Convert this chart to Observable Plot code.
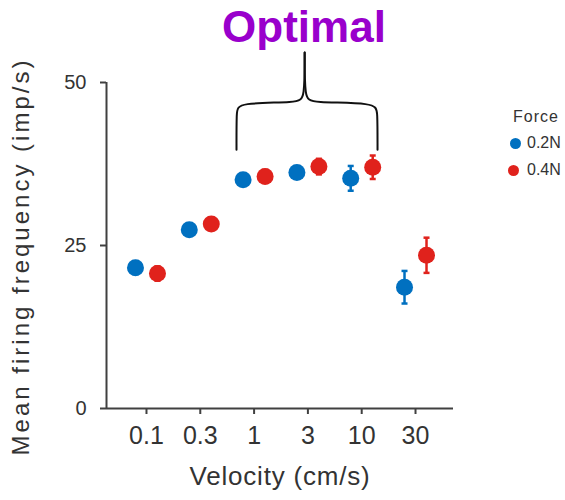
<!DOCTYPE html>
<html>
<head>
<meta charset="utf-8">
<script src="https://cdn.jsdelivr.net/npm/d3@7"></script>
<script src="https://cdn.jsdelivr.net/npm/@observablehq/plot@0.6"></script>
<style>
  body { margin: 0; background: white; }
  #wrap { position: relative; width: 565px; height: 500px; font-family: "Liberation Sans", Arial, sans-serif; overflow: hidden; }
  #title { height: 50px; width: 608px; text-align: center; font-weight: bold; font-size: 44px; line-height: 50px; color: #9900cc; position: relative; top: 2px; }
  #chart { position: absolute; left: 0; top: 50px; }
  .leg { position: absolute; color: #333; font-size: 16px; line-height: 20px; }
  .sw { position: absolute; width: 11px; height: 11px; border-radius: 50%; }
</style>
</head>
<body>
<div id="wrap">
  <div id="title">Optimal</div>
  <div id="chart"></div>
  <div class="leg" style="left:513px; top:107px; letter-spacing:1px;">Force</div>
  <div class="sw" style="left:510px; top:138px; background:#0070c0;"></div>
  <div class="leg" style="left:527px; top:133px;">0.2N</div>
  <div class="sw" style="left:508px; top:165px; background:#e0221c;"></div>
  <div class="leg" style="left:527px; top:160px;">0.4N</div>
</div>
<script>
// ---- data ----
const velocities = ["0.1", "0.3", "1", "3", "10", "30"];
const forces = ["0.2N", "0.4N"];
const colors = ["#0070c0", "#e0221c"];
const blueValues = [21.6, 27.4, 35.1, 36.2, 35.3, 18.6];
const blueErrors = [1.0, 0.8, 0.8, 0.9, 1.9, 2.5];
const redValues = [20.7, 28.3, 35.6, 37.1, 37.0, 23.5];
const redErrors = [1.1, 0.9, 1.0, 1.2, 1.8, 2.7];
const yTicks = [0, 25, 50];
// brace annotation (x in velocity-index units, y in imp/s), two halves
const braceX = [1.673, 1.673, 1.70, 2.82, 2.94, 2.94, 2.94, 2.94, 3.06, 4.26, 4.294, 4.294];
const braceY = [39.7, 45.6, 46.9, 46.9, 47.6, 54.6, 54.6, 47.6, 46.9, 46.9, 45.6, 39.7];
const braceSide = ["L","L","L","L","L","L","R","R","R","R","R","R"];

// ---- tables ----
const rows = (vals, errs, force) => velocities.map((v, i) => ({i, velocity: v, force, value: vals[i], err: errs[i]}));
const blueRows = rows(blueValues, blueErrors, forces[0]);
const redRows = rows(redValues, redErrors, forces[1]);
const brace = braceX.map((x, k) => ({x, y: braceY[k], side: braceSide[k]}));

const xDomain = [-0.743, 5.706];
const capSymbol = { draw(ctx, size) { const w = Math.sqrt(size / Math.PI); ctx.moveTo(-w, 0); ctx.lineTo(w, 0); } };

function series(data, color, dx) {
  return [
    Plot.ruleX(data, {x: "i", y1: d => d.value - d.err, y2: d => d.value + d.err, stroke: color, strokeWidth: 2.5, dx}),
    Plot.dot(data, {x: "i", y: d => d.value + d.err, symbol: capSymbol, r: 3, stroke: color, strokeWidth: 2.5, dx}),
    Plot.dot(data, {x: "i", y: d => d.value - d.err, symbol: capSymbol, r: 3, stroke: color, strokeWidth: 2.5, dx}),
    Plot.dot(data, {x: "i", y: "value", r: 8.5, fill: color, dx})
  ];
}

const chart = Plot.plot({
  width: 565,
  height: 450,
  marginTop: 32,
  marginBottom: 92,
  marginLeft: 106,
  marginRight: 112,
  style: {fontFamily: "'Liberation Sans', Arial, sans-serif", color: "#333", background: "white", overflow: "visible"},
  x: {domain: xDomain},
  y: {domain: [0, 50]},
  marks: [
    Plot.ruleY([0], {stroke: "#404040", strokeWidth: 2}),
    Plot.ruleX([xDomain[0]], {stroke: "#404040", strokeWidth: 2}),
    Plot.axisX({ticks: d3.range(velocities.length), tickFormat: i => velocities[i], tickSize: 6, tickPadding: 12, fontSize: 25, label: null, stroke: "#404040", strokeWidth: 2}),
    Plot.axisY({ticks: yTicks, tickSize: 6, tickPadding: 14, fontSize: 20, label: null, stroke: "#404040", strokeWidth: 2}),
    Plot.text(["Velocity (cm/s)"], {frameAnchor: "bottom", dy: 76, fontSize: 26, fill: "#333"}),
    Plot.text(["Mean firing frequency (imp/s)"], {frameAnchor: "left", textAnchor: "middle", dx: -85, dy: 11, rotate: -90, fontSize: 24, fill: "#333"}),
    Plot.line(brace, {x: "x", y: "y", z: "side", curve: "basis", stroke: "#111", strokeWidth: 2}),
    ...series(blueRows, colors[0], -11),
    ...series(redRows, colors[1], 11)
  ]
});
document.getElementById("chart").appendChild(chart);
// letter spacing for the axis titles
d3.select(chart).selectAll("text").each(function() {
  if (this.textContent === "Mean firing frequency (imp/s)") d3.select(this).style("letter-spacing", "3px");
  if (this.textContent === "Velocity (cm/s)") d3.select(this).style("letter-spacing", "0.8px");
});
</script>
</body>
</html>
